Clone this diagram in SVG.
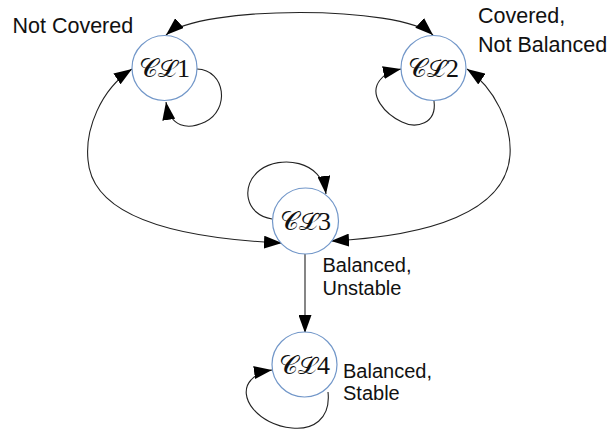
<svg xmlns="http://www.w3.org/2000/svg" width="613" height="431" viewBox="0 0 613 431">
<style>
.node{fill:#fff;stroke:#7297c9;stroke-width:1.2}
.math{font-family:"Liberation Serif","DejaVu Serif",serif;font-size:26px;fill:#111;text-anchor:middle}
.lbl{font-family:"Liberation Sans",Arial,sans-serif;fill:#111}
.edge{fill:none;stroke:#222;stroke-width:1.1}
</style>
<defs>
<marker id="ah" markerUnits="userSpaceOnUse" markerWidth="18" markerHeight="13" viewBox="0 0 18 13" refX="18" refY="6.5" orient="auto-start-reverse">
<path d="M0,0 L18,6.5 L0,13 z" fill="#000"/>
</marker>
</defs>
<rect width="613" height="431" fill="#fff"/>
<g id="connectors">
<path class="edge" d="M166,35 C200,5 400,5 433,35" marker-start="url(#ah)" marker-end="url(#ah)"/>
<path class="edge" d="M197,69 C226,70 230,110 205,122 C188,130 170,128 166,102" marker-end="url(#ah)"/>
<path class="edge" d="M434,101 C437,124 416,129 402,122 C385,114 368,95 380,80 Q386,72 401,69" marker-end="url(#ah)"/>
<path class="edge" d="M132,69 C100,90 85,130 88,160 C92,215 170,238 282,243" marker-start="url(#ah)" marker-end="url(#ah)"/>
<path class="edge" d="M467,69 C495,88 512,125 510,155 C506,212 430,236 331,241" marker-start="url(#ah)" marker-end="url(#ah)"/>
<path class="edge" d="M272,219 C245,215 240,185 260,170 C280,155 322,160 326,194" marker-end="url(#ah)"/>
<path class="edge" d="M305,254 L305,333" marker-end="url(#ah)"/>
<path class="edge" d="M328,392 C331,420 312,430 292,428 C258,425 236,396 251,380 Q258,372 272,370" marker-end="url(#ah)"/>
</g>
<g id="CL1">
<circle class="node" cx="164.5" cy="68" r="32.5"/>
<text class="math" x="164.5" y="77">𝒞ℒ1</text>
</g>
<g id="CL2">
<circle class="node" cx="433.5" cy="68" r="32.5"/>
<text class="math" x="433.5" y="77">𝒞ℒ2</text>
</g>
<g id="CL3">
<circle class="node" cx="305.5" cy="221" r="33"/>
<text class="math" x="305.5" y="230">𝒞ℒ3</text>
</g>
<g id="CL4">
<circle class="node" cx="304.5" cy="364.5" r="32.5"/>
<text class="math" x="304.5" y="373.5">𝒞ℒ4</text>
</g>
<g id="labels">
<text class="lbl" x="12.5" y="33" font-size="21.5">Not Covered</text>
<text class="lbl" x="478" y="23" font-size="21.5">Covered,</text>
<text class="lbl" x="478" y="52" font-size="21.5">Not Balanced</text>
<text class="lbl" x="322.5" y="272" font-size="20">Balanced,</text>
<text class="lbl" x="322.5" y="295" font-size="20">Unstable</text>
<text class="lbl" x="343" y="378" font-size="20">Balanced,</text>
<text class="lbl" x="343" y="400" font-size="20">Stable</text>
</g>
</svg>
